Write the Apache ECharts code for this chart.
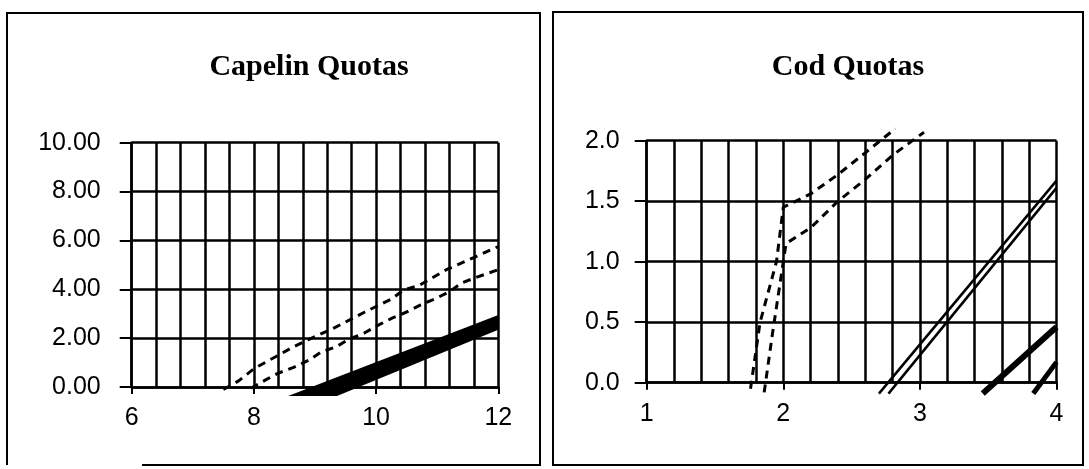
<!DOCTYPE html>
<html>
<head>
<meta charset="utf-8">
<script src="https://cdn.jsdelivr.net/npm/echarts@6/dist/echarts.min.js"></script>
<style>
  html, body { margin: 0; padding: 0; background: #fff; }
  #chart { width: 1089px; height: 469px; }
</style>
</head>
<body>
<div id="chart"></div>
<script>
const chartDom = document.getElementById("chart");
const chart = echarts.init(chartDom, null, { renderer: "canvas" });

// Capelin panel
const capelinUpperX = [7.5, 7.75, 8.0, 8.4, 8.65, 8.9, 9.3, 9.8, 10.25, 10.45, 10.7, 11.15, 11.6, 12];
const capelinUpperY = [-0.1, 0.25, 0.75, 1.3, 1.65, 1.95, 2.4, 3.05, 3.6, 3.97, 4.15, 4.8, 5.3, 5.75];
const capelinLowerX = [7.95, 8.2, 8.4, 8.65, 8.9, 9.1, 9.35, 9.55, 9.8, 10.05, 10.27, 10.5, 10.73, 11.0, 11.2, 11.4, 11.65, 12];
const capelinLowerY = [-0.05, 0.3, 0.57, 0.8, 1.1, 1.43, 1.65, 1.95, 2.2, 2.55, 2.83, 3.07, 3.36, 3.65, 3.9, 4.26, 4.5, 4.8];
const capelinBandX = [8.56, 9.36, 12, 12];
const capelinBandY = [-0.37, -0.37, 2.34, 2.95];

// Cod panel
const codUpperX = [1.76, 1.83, 1.95, 2.0, 2.2, 2.4, 2.6, 2.82];
const codUpperY = [-0.05, 0.5, 1.0, 1.45, 1.56, 1.72, 1.9, 2.1];
const codLowerX = [1.86, 1.92, 2.0, 2.02, 2.2, 2.4, 2.6, 2.8, 3.03];
const codLowerY = [-0.08, 0.4, 1.0, 1.15, 1.28, 1.5, 1.68, 1.88, 2.07];
const codLine1X = [2.70, 4];
const codLine1Y = [-0.09, 1.67];
const codLine2X = [2.77, 4];
const codLine2Y = [-0.09, 1.61];
const codThick1X = [3.46, 4];
const codThick1Y = [-0.09, 0.46];
const codThick2X = [3.83, 4];
const codThick2Y = [-0.09, 0.17];

const zip = (xs, ys) => xs.map((x, i) => [x, ys[i]]);

const black = "#000";
const labelFont = { color: black, fontSize: 25, fontFamily: "Liberation Sans" };
const gridLine = { show: true, lineStyle: { color: black, width: 2.5, type: "solid" } };

function valueX(idx, min, max, interval) {
  return {
    type: "value", gridIndex: idx, min: min, max: max, interval: interval,
    axisLine: { show: true, onZero: false, lineStyle: { color: black, width: 2.5 } },
    axisTick: { show: true, length: 7, lineStyle: { color: black, width: 2 } },
    minorTick: { show: false, splitNumber: 5 },
    splitLine: gridLine,
    minorSplitLine: gridLine,
    axisLabel: Object.assign({ margin: 19, formatter: (v) => String(v) }, labelFont),
  };
}

function valueY(idx, min, max, interval, digits, margin) {
  return {
    type: "value", gridIndex: idx, min: min, max: max, interval: interval,
    axisLine: { show: true, lineStyle: { color: black, width: 2.5 } },
    axisTick: { show: true, length: 12, lineStyle: { color: black, width: 2 } },
    splitLine: gridLine,
    axisLabel: Object.assign({ margin: margin, formatter: (v) => v.toFixed(digits) }, labelFont),
  };
}

function line(name, data, axis, width, type) {
  return {
    name: name, type: "line", data: data, xAxisIndex: axis, yAxisIndex: axis,
    symbol: "none", clip: false, silent: true,
    lineStyle: { color: black, width: width, type: type },
  };
}

const bandData = zip(capelinBandX, capelinBandY);

const option = {
  animation: false,
  backgroundColor: "#fff",
  title: [
    { text: "Capelin Quotas", left: 304, top: 47, textAlign: "center",
      textStyle: { fontFamily: "Liberation Serif", fontWeight: "bold", fontSize: 30, color: black } },
    { text: "Cod Quotas", left: 843, top: 47, textAlign: "center",
      textStyle: { fontFamily: "Liberation Serif", fontWeight: "bold", fontSize: 30, color: black } },
  ],
  grid: [
    { left: 131.7, top: 142.7, width: 366.6, height: 244.3 },
    { left: 646.7, top: 140.7, width: 409.8, height: 242 },
  ],
  xAxis: [valueX(0, 6, 12, 2), valueX(1, 1, 4, 1)],
  yAxis: [valueY(0, 0, 10, 2, 2, 31), valueY(1, 0, 2, 0.5, 1, 27)],
  series: [
    {
      name: "capelin band", type: "custom", xAxisIndex: 0, yAxisIndex: 0,
      data: bandData, silent: true,
      renderItem: function (params, api) {
        if (params.dataIndex !== 0) return null;
        return {
          type: "polygon",
          shape: { points: bandData.map((p) => api.coord(p)) },
          style: { fill: black },
        };
      },
    },
    line("capelin upper", zip(capelinUpperX, capelinUpperY), 0, 3, [8, 6]),
    line("capelin lower", zip(capelinLowerX, capelinLowerY), 0, 3, [8, 6]),
    line("cod upper", zip(codUpperX, codUpperY), 1, 3, [8, 6]),
    line("cod lower", zip(codLowerX, codLowerY), 1, 3, [8, 6]),
    line("cod line 1", zip(codLine1X, codLine1Y), 1, 2.5, "solid"),
    line("cod line 2", zip(codLine2X, codLine2Y), 1, 2.5, "solid"),
    line("cod thick 1", zip(codThick1X, codThick1Y), 1, 6, "solid"),
    line("cod thick 2", zip(codThick2X, codThick2Y), 1, 5, "solid"),
  ],
  graphic: [
    { type: "polyline", silent: true, shape: { points: [[142, 465], [540, 465], [540, 13], [7, 13], [7, 465]] },
      style: { stroke: black, lineWidth: 2, fill: null } },
    { type: "rect", silent: true, shape: { x: 553, y: 12, width: 530, height: 453 },
      style: { stroke: black, lineWidth: 2, fill: null } },
  ],
};

chart.setOption(option);
</script>
</body>
</html>
